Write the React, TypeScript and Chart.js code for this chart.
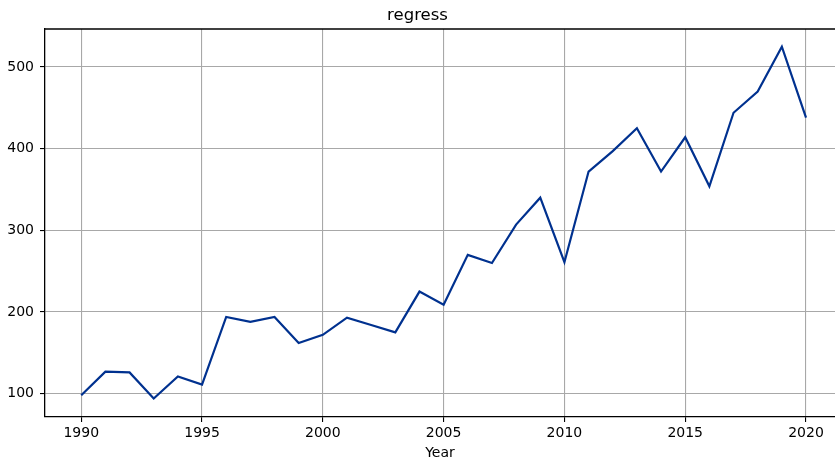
import React, { useEffect, useRef } from "react";
import { Chart, registerables } from "chart.js";

Chart.register(...registerables);

const years: number[] = [
  1990, 1991, 1992, 1993, 1994, 1995, 1996, 1997, 1998, 1999, 2000,
  2001, 2002, 2003, 2004, 2005, 2006, 2007, 2008, 2009, 2010,
  2011, 2012, 2013, 2014, 2015, 2016, 2017, 2018, 2019, 2020,
];
const values: number[] = [
  98, 127, 126, 94, 121, 111, 194, 188, 194, 162, 172,
  193, 184, 175, 225, 209, 270, 260, 307, 340, 261,
  372, 397, 425, 372, 414, 354, 444, 470, 525, 438,
];
const xTicks: number[] = [1990, 1995, 2000, 2005, 2010, 2015, 2020];
const yTicks: number[] = [100, 200, 300, 400, 500];
const chartTitle = "regress";
const xTitle = "Year";

const FONT = "'DejaVu Sans', sans-serif";

const topSpine = {
  id: "topSpine",
  afterDraw(chart: any) {
    const { ctx, chartArea } = chart;
    ctx.save();
    ctx.strokeStyle = "#000";
    ctx.lineWidth = 1.3;
    ctx.beginPath();
    ctx.moveTo(chartArea.left, chartArea.top);
    ctx.lineTo(chartArea.right, chartArea.top);
    ctx.stroke();
    ctx.restore();
  },
};

export default function App() {
  const ref = useRef<HTMLCanvasElement | null>(null);
  useEffect(() => {
    document.body.style.margin = "0";
    const canvas = ref.current!;
    const chart = new Chart(canvas, {
      type: "line",
      data: {
        datasets: [
          {
            data: years.map((y, i) => ({ x: y, y: values[i] })),
            borderColor: "#00318f",
            borderWidth: 2.2,
            pointRadius: 0,
            tension: 0,
            fill: false,
          },
        ],
      },
      options: {
        animation: false,
        responsive: false,
        maintainAspectRatio: false,
        layout: { padding: 0 },
        plugins: {
          legend: { display: false },
          tooltip: { enabled: false },
          title: {
            display: true,
            text: chartTitle,
            color: "#000",
            font: { family: FONT, size: 16.5, weight: "normal" },
            padding: { top: 6, bottom: 3.2 },
          },
        },
        scales: {
          x: {
            type: "linear",
            min: 1988.5,
            max: 2021.2,
            afterBuildTicks: (scale: any) => {
              scale.ticks = xTicks.map((v) => ({ value: v }));
            },
            afterFit: (scale: any) => {
              scale.height = 42;
            },
            ticks: {
              color: "#000",
              font: { family: FONT, size: 14 },
              padding: 3,
              maxRotation: 0,
              autoSkip: false,
              callback: (v: any) => String(v),
            },
            grid: {
              color: "#a8a8a8",
              lineWidth: 1.1,
              tickColor: "#000",
              tickLength: 5,
              drawTicks: true,
            },
            border: { display: true, color: "#000", width: 1.3 },
            title: {
              display: true,
              text: xTitle,
              color: "#000",
              font: { family: FONT, size: 14 },
              padding: { top: 0, bottom: -3 },
            },
          },
          y: {
            type: "linear",
            min: 71.4,
            max: 546.6,
            afterBuildTicks: (scale: any) => {
              scale.ticks = yTicks.map((v) => ({ value: v }));
            },
            afterFit: (scale: any) => {
              scale.width = 45;
            },
            ticks: {
              color: "#000",
              font: { family: FONT, size: 14 },
              padding: 6,
              callback: (v: any) => String(v),
            },
            grid: {
              color: "#a8a8a8",
              lineWidth: 1.1,
              tickColor: "#000",
              tickLength: 5,
              drawTicks: true,
            },
            border: { display: true, color: "#000", width: 1.3 },
          },
        },
      },
      plugins: [topSpine],
    });
    return () => chart.destroy();
  }, []);
  return (
    <div style={{ width: 835, height: 459 }}>
      <canvas ref={ref} width={835} height={459} style={{ display: "block" }} />
    </div>
  );
}
